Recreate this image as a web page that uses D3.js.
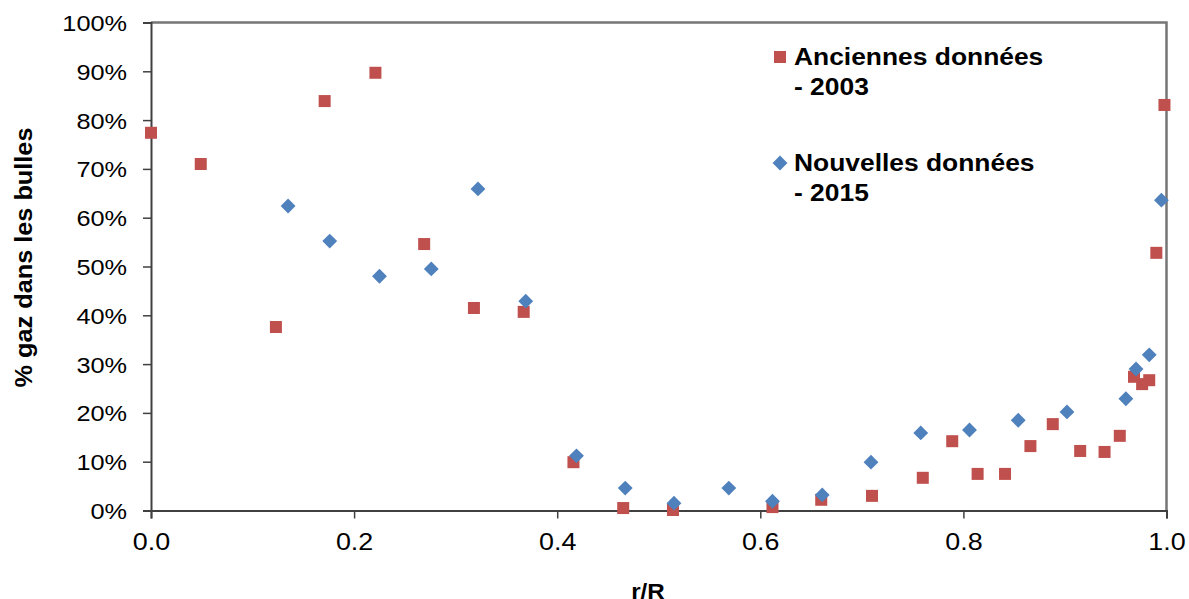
<!DOCTYPE html>
<html>
<head>
<meta charset="utf-8">
<script src="https://d3js.org/d3.v7.min.js"></script>
<style>
  body { margin: 0; background: #fff; }
  text { font-family: "Liberation Sans", Arial, sans-serif; }
</style>
</head>
<body>
<div id="chart"></div>
<script>
(function(){
	// Anciennes données - 2003 (r/R, fraction de gaz)
	var oldX = [0.000, 0.049, 0.123, 0.171, 0.221, 0.269, 0.318, 0.367, 0.416, 0.465, 0.514, 0.612,
	            0.660, 0.710, 0.760, 0.789, 0.814, 0.841, 0.866, 0.888, 0.915, 0.939, 0.954, 0.968,
	            0.976, 0.983, 0.990, 0.998];
	var oldY = [0.774, 0.710, 0.376, 0.839, 0.897, 0.546, 0.415, 0.407, 0.099, 0.005, 0.001, 0.007,
	            0.022, 0.030, 0.067, 0.142, 0.075, 0.075, 0.132, 0.177, 0.122, 0.120, 0.153, 0.274,
	            0.259, 0.267, 0.528, 0.831];
	// Nouvelles données - 2015
	var newX = [0.135, 0.176, 0.225, 0.276, 0.322, 0.369, 0.419, 0.467, 0.515, 0.569, 0.612, 0.661,
	            0.709, 0.758, 0.806, 0.854, 0.902, 0.960, 0.970, 0.983, 0.995];
	var newY = [0.624, 0.552, 0.480, 0.495, 0.659, 0.429, 0.112, 0.046, 0.015, 0.046, 0.019, 0.032,
	            0.099, 0.159, 0.165, 0.185, 0.202, 0.229, 0.290, 0.319, 0.636];
	var xTicks = [0, 0.2, 0.4, 0.6, 0.8, 1.0];
	var yTicks = [0, 0.1, 0.2, 0.3, 0.4, 0.5, 0.6, 0.7, 0.8, 0.9, 1.0];
	var legendLabels = [["Anciennes données", "- 2003"], ["Nouvelles données", "- 2015"]];

	var W = 1189, H = 599;
	var margin = {top: 22.5, left: 151, right: 22.5, bottom: 88.5},
		width = W - margin.left - margin.right,
		height = H - margin.top - margin.bottom;

	var red = "#C0504D", blue = "#4F81BD";
	var sx = 1.1; // the original font is drawn a bit wider

	var svg = d3.select("#chart")
				.append("svg")
				.attr("width", W)
				.attr("height", H)
				.append("g")
				.attr("transform", "translate(" + margin.left + "," + margin.top + ")");

	var x = d3.scaleLinear().domain([0, 1]).range([0, width]);
	var y = d3.scaleLinear().domain([0, 1]).range([height, 0]);

	// frame (top and right sides)
	svg.append("path")
	   .attr("d", "M0,0H" + width + "V" + height)
	   .attr("fill", "none")
	   .attr("stroke", "#767676")
	   .attr("stroke-width", 2.5);

	var yAxis = svg.append("g")
				   .call(d3.axisLeft(y).tickValues(yTicks).tickSize(8).tickPadding(15)
				   .tickFormat(d3.format(".0%")));
	var xAxis = svg.append("g")
				   .attr("transform", "translate(0," + height + ")")
				   .call(d3.axisBottom(x).tickValues(xTicks).tickSize(8).tickPadding(14)
				   .tickFormat(d3.format(".1f")));

	[xAxis, yAxis].forEach(function(a){
		a.select(".domain").attr("stroke", "#404040").attr("stroke-width", 2);
		a.selectAll(".tick line").attr("stroke", "#404040").attr("stroke-width", 1.5);
		a.selectAll(".tick text").attr("fill", "#000")
		 .style("font-family", "'Liberation Sans', Arial, sans-serif");
	});
	yAxis.selectAll(".tick text")
		 .style("font-size", "22px")
		 .attr("dy", "0.36em")
		 .attr("x", -24 / 1.15)
		 .attr("transform", "scale(1.15,1)");
	xAxis.selectAll(".tick text")
		 .style("font-size", "24px")
		 .attr("transform", "scale(1.12,1)");

	// axis titles
	svg.append("text")
	   .attr("transform", "translate(497," + (height + 88) + ") scale(" + sx + ",1)")
	   .attr("text-anchor", "middle")
	   .style("font-size", "22px")
	   .style("font-weight", "bold")
	   .text("r/R");

	svg.append("text")
	   .attr("transform", "translate(" + (-119) + "," + (257.5 - margin.top) + ") rotate(-90) scale(" + sx + ",1)")
	   .attr("text-anchor", "middle")
	   .style("font-size", "23px")
	   .style("font-weight", "bold")
	   .text("% gaz dans les bulles");

	var oldData = oldX.map(function(d, i){ return [d, oldY[i]]; });
	var newData = newX.map(function(d, i){ return [d, newY[i]]; });

	svg.selectAll(".old")
	   .data(oldData)
	   .enter().append("rect")
	   .attr("class", "old")
	   .attr("x", function(d){ return x(d[0]) - 6; })
	   .attr("y", function(d){ return y(d[1]) - 6; })
	   .attr("width", 12)
	   .attr("height", 12)
	   .attr("fill", red);

	var diamond = d3.symbol().type(d3.symbolSquare).size(110);
	svg.selectAll(".new")
	   .data(newData)
	   .enter().append("path")
	   .attr("class", "new")
	   .attr("d", diamond)
	   .attr("transform", function(d){
			return "translate(" + x(d[0]) + "," + y(d[1]) + ") rotate(45)";
	   })
	   .attr("fill", blue);

	// legend
	var legend = svg.append("g").attr("transform", "translate(" + (780 - margin.left) + "," + (57 - margin.top) + ")");
	legendLabels.forEach(function(lines, i){
		var g = legend.append("g").attr("transform", "translate(0," + (i * 106) + ")");
		if (i === 0) {
			g.append("rect").attr("x", -6).attr("y", -6).attr("width", 12).attr("height", 12).attr("fill", red);
		} else {
			g.append("path").attr("d", diamond).attr("transform", "rotate(45)").attr("fill", blue);
		}
		lines.forEach(function(t, j){
			g.append("text")
			 .attr("transform", "translate(14," + (8 + j * 30) + ") scale(" + sx + ",1)")
			 .style("font-size", "24px")
			 .style("font-weight", "bold")
			 .text(t);
		});
	});
})();
</script>
</body>
</html>
